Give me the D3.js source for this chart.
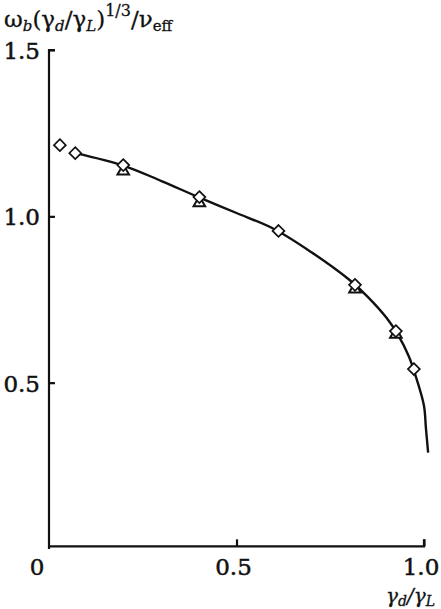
<!DOCTYPE html>
<html>
<head>
<meta charset="utf-8">
<script src="https://cdn.jsdelivr.net/npm/d3@7/dist/d3.min.js"></script>
<style>
  html, body { margin: 0; padding: 0; background: #fff; }
  svg { display: block; }
</style>
</head>
<body>
<svg id="chart" width="441" height="609" font-family="'DejaVu Serif', 'Liberation Serif', serif"></svg>
<script>
// Ratio of damping rates (x) for the sampled solutions
const diamondX = [0.029, 0.070, 0.198, 0.401, 0.612, 0.816, 0.925, 0.973];
// Normalised frequency for the diamond markers
const diamondY = [1.214, 1.190, 1.154, 1.058, 0.956, 0.794, 0.655, 0.541];

// Second set of markers (triangles)
const triangleX = [0.198, 0.401, 0.816, 0.925];
const triangleY = [1.136, 1.040, 0.781, 0.645];

// Theoretical curve
const curveX = [0.070, 0.20, 0.30, 0.40, 0.50, 0.60, 0.70, 0.80, 0.85, 0.90, 0.93, 0.96, 0.98, 1.00, 1.005, 1.011];
const curveY = [1.190, 1.152, 1.106, 1.057, 1.010, 0.962, 0.892, 0.810, 0.758, 0.695, 0.645, 0.578, 0.512, 0.430, 0.365, 0.290];

const xTicks = [0, 0.5, 1.0];
const xTickLabels = ["0", "0.5", "1.0"];
const yTicks = [0.5, 1.0, 1.5];
const yTickLabels = ["0.5", "1.0", "1.5"];

const svg = d3.select("#chart");

const x = d3.scaleLinear().domain([0, 1]).range([49, 424]);
const y = d3.scaleLinear().domain([0, 1.5]).range([549, 50]);

const ink = "#111";

// Axes: y-axis with inward ticks, x-axis with upward ticks
const yAxis = d3.axisRight(y).tickValues(yTicks).tickSize(6).tickFormat("");
const gy = svg.append("g").attr("transform", `translate(${x(0)},0)`).call(yAxis);
gy.select(".domain").attr("d", `M6,${y(1.5)}H0V${y(0)}`);

const xAxis = d3.axisTop(x).tickValues(xTicks.slice(1)).tickSize(7).tickFormat("");
const gx = svg.append("g").attr("transform", `translate(0,${y(0.008)})`).call(xAxis);
gx.select(".domain").attr("d", `M${x(0)},0H${x(1)}V-7`);

svg.selectAll(".domain, .tick line")
  .attr("stroke", ink).attr("stroke-width", 2.2).attr("fill", "none");

// Tick labels (slightly heavy serif)
svg.append("g").selectAll("text").data(yTicks).join("text")
  .attr("x", x(0) - 9)
  .attr("y", d => y(d) + 9)
  .attr("text-anchor", "end")
  .attr("font-size", 23)
  .attr("fill", ink)
  .attr("stroke", ink).attr("stroke-width", 0.5)
  .text((d, i) => yTickLabels[i]);

svg.append("g").selectAll("text").data(xTicks).join("text")
  .attr("x", (d, i) => i === 0 ? x(d) - 12 : x(d) - 3)
  .attr("y", 575)
  .attr("text-anchor", "middle")
  .attr("font-size", 23)
  .attr("fill", ink)
  .attr("stroke", ink).attr("stroke-width", 0.5)
  .text((d, i) => xTickLabels[i]);

// Y-axis title: ω_b (γ_d/γ_L)^{1/3} / ν_eff
const yt = svg.append("text").attr("x", 4).attr("y", 27).attr("font-size", 23)
  .attr("fill", ink).attr("stroke", ink).attr("stroke-width", 0.3);
yt.append("tspan").text("ω");
yt.append("tspan").attr("font-size", 15).attr("font-style", "italic").attr("dy", 4).text("b");
yt.append("tspan").attr("dy", -4).text("(γ");
yt.append("tspan").attr("font-size", 15).attr("font-style", "italic").attr("dy", 4).text("d");
yt.append("tspan").attr("dy", -4).text("/γ");
yt.append("tspan").attr("font-size", 15).attr("font-style", "italic").attr("dy", 4).text("L");
yt.append("tspan").attr("dy", -4).text(")");
yt.append("tspan").attr("font-size", 16).attr("dy", -11).text("1/3");
yt.append("tspan").attr("dy", 11).text("/ν");
yt.append("tspan").attr("font-size", 15).attr("dy", 4).text("eff");

// X-axis title: γ_d/γ_L
const xt = svg.append("text").attr("x", 386).attr("y", 603).attr("font-size", 20).attr("font-style", "italic")
  .attr("fill", ink).attr("stroke", ink).attr("stroke-width", 0.3);
xt.append("tspan").text("γ");
xt.append("tspan").attr("font-size", 14).attr("dy", 3).text("d");
xt.append("tspan").attr("dy", -3).text("/γ");
xt.append("tspan").attr("font-size", 14).attr("dy", 3).text("L");

// Curve
const curveData = curveX.map((d, i) => [d, curveY[i]]);
svg.append("path")
  .datum(curveData)
  .attr("fill", "none")
  .attr("stroke", ink)
  .attr("stroke-width", 2.4)
  .attr("d", d3.line().x(d => x(d[0])).y(d => y(d[1])).curve(d3.curveCatmullRom.alpha(0.5)));

// Triangle markers
const tri = d3.symbol().type(d3.symbolTriangle).size(58);
svg.append("g").selectAll("path").data(triangleX.map((d, i) => [d, triangleY[i]])).join("path")
  .attr("d", tri)
  .attr("transform", d => `translate(${x(d[0])},${y(d[1])})`)
  .attr("fill", "#fff")
  .attr("stroke", ink)
  .attr("stroke-width", 2);

// Diamond markers
const dia = d3.symbol().type(d3.symbolDiamond2).size(90);
svg.append("g").selectAll("path").data(diamondX.map((d, i) => [d, diamondY[i]])).join("path")
  .attr("d", dia)
  .attr("transform", d => `translate(${x(d[0])},${y(d[1])})`)
  .attr("fill", "#fff")
  .attr("stroke", ink)
  .attr("stroke-width", 1.7);
</script>
</body>
</html>
